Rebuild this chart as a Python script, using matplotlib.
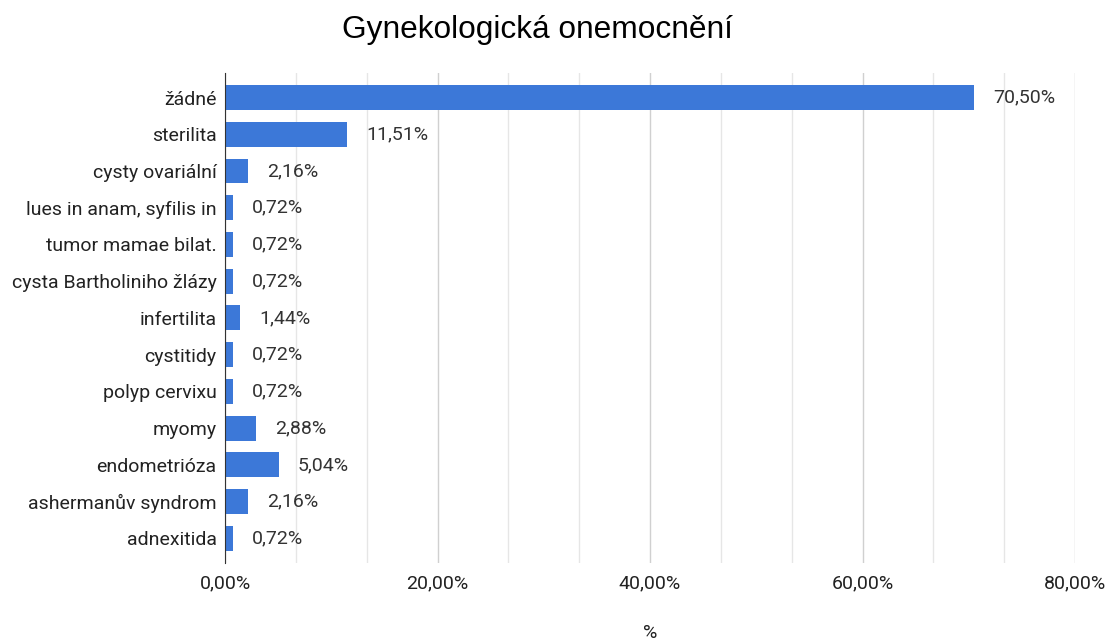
import numpy as np
import matplotlib
matplotlib.use("Agg")
import matplotlib.pyplot as plt
from matplotlib.ticker import MultipleLocator, FuncFormatter

plt.rcParams["font.family"] = ["Roboto", "DejaVu Sans"]

# == DATOS ==
kategorie = [
    "žádné", "sterilita", "cysty ovariální", "lues in anam, syfilis in",
    "tumor mamae bilat.", "cysta Bartholiniho žlázy", "infertilita",
    "cystitidy", "polyp cervixu", "myomy", "endometrióza",
    "ashermanův syndrom", "adnexitida",
]
procenta = [70.50, 11.51, 2.16, 0.72, 0.72, 0.72, 1.44, 0.72, 0.72, 2.88, 5.04, 2.16, 0.72]
popisky = ["70,50%", "11,51%", "2,16%", "0,72%", "0,72%", "0,72%", "1,44%",
           "0,72%", "0,72%", "2,88%", "5,04%", "2,16%", "0,72%"]

# == FIGURA ==
fig = plt.figure(figsize=(11.13, 6.42), dpi=100)
ax = fig.add_axes([0.2022, 0.1231, 0.7637, 0.7632])

y = np.arange(len(kategorie))
ax.barh(y, procenta, height=0.68, color="#3c78d8", zorder=3)

for yi, v, t in zip(y, procenta, popisky):
    ax.annotate(t, (v, yi), xytext=(14, 0), textcoords="offset points",
                va="center", ha="left", fontsize=14, color="#333333")

ax.set_xlim(0, 80)
ax.set_ylim(len(kategorie) - 1 + 0.667, -0.667)
ax.set_yticks(y)
ax.set_yticklabels(kategorie, fontsize=14, color="#222222")

ax.xaxis.set_major_locator(MultipleLocator(20))
ax.xaxis.set_minor_locator(MultipleLocator(80 / 12))
ax.xaxis.set_major_formatter(FuncFormatter(lambda v, p: f"{v:.2f}%".replace(".", ",")))
ax.tick_params(axis="x", labelsize=14, colors="#222222", length=0, which="both", pad=8)
ax.tick_params(axis="y", length=0, pad=6)
ax.grid(axis="x", which="major", color="#d0d0d0", lw=1, zorder=0)
ax.grid(axis="x", which="minor", color="#e6e6e6", lw=1, zorder=0)

for s in ["top", "right", "bottom"]:
    ax.spines[s].set_visible(False)
ax.spines["left"].set_color("#333333")
ax.spines["left"].set_zorder(4)

fig.text(650 / 1113, 1 - 633 / 642, "%", ha="center", va="center",
         fontsize=14, color="#222222")
fig.text(0.4825, 0.953, "Gynekologická onemocnění", ha="center", va="center",
         fontsize=22.8, color="#000000", family=["Liberation Sans", "DejaVu Sans"])

fig.savefig("out.png", dpi=100)
